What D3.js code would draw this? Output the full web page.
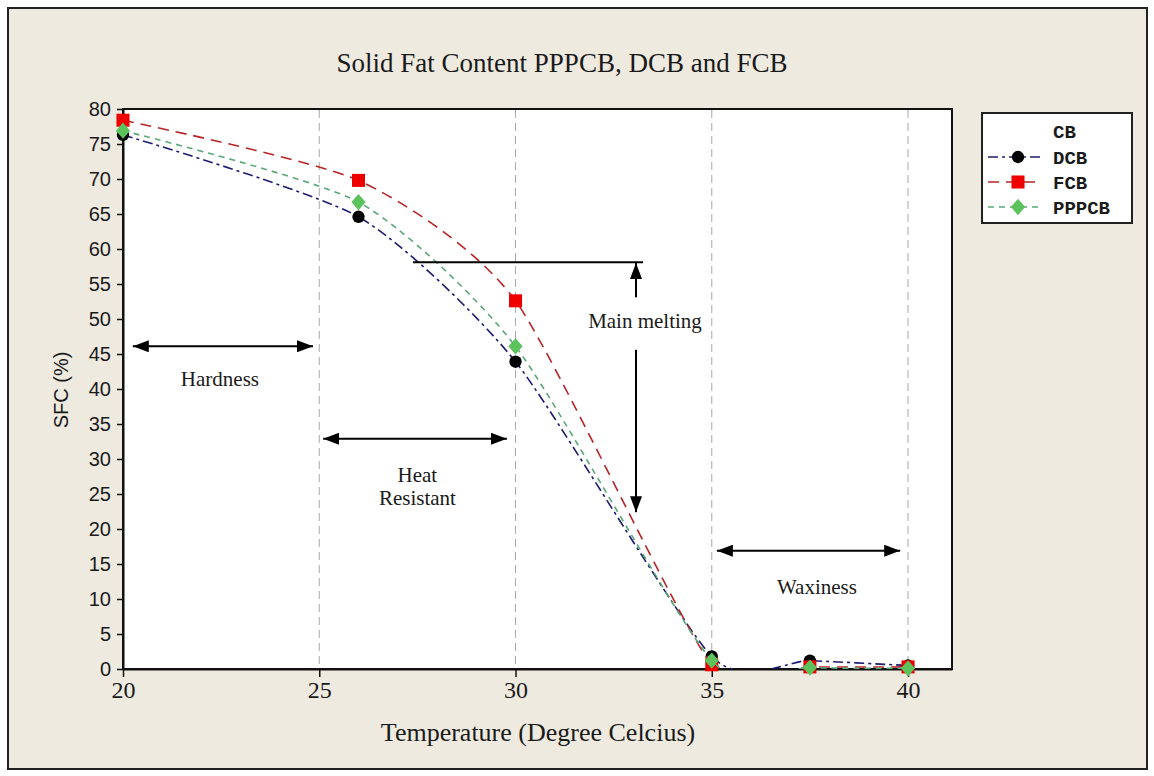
<!DOCTYPE html>
<html>
<head>
<meta charset="utf-8">
<script src="https://cdnjs.cloudflare.com/ajax/libs/d3/7.8.5/d3.min.js"></script>
<style>
	body { margin: 0; background: #fff; }
	#chart text { fill: #1a1a1a; }
</style>
</head>
<body>
<div id="chart"></div>
<script>
'use strict';

// values
var temps  = [20, 26, 30, 35, 37.5, 40];
var dcb    = [76.3, 64.6, 43.9, 1.8, 1.2, 0.5];
var fcb    = [78.4, 69.8, 52.6, 0.6, 0.3, 0.3];
var pppcb  = [76.9, 66.7, 46.1, 1.2, 0.2, 0.1];
var xTicks = [20, 25, 30, 35, 40];
var yTicks = [0, 5, 10, 15, 20, 25, 30, 35, 40, 45, 50, 55, 60, 65, 70, 75, 80];
var gridAt = [25, 30, 35, 40];
var names  = ['DCB', 'FCB', 'PPPCB'];

// annotation arrows, in data units (temperature, SFC)
var arrows = [
	{x1: 20.25, y1: 46.1, x2: 24.84, y2: 46.1, both: true},
	{x1: 25.1,  y1: 32.9, x2: 29.78, y2: 32.9, both: true},
	{x1: 35.13, y1: 16.9, x2: 39.8,  y2: 16.9, both: true},
	{x1: 33.07, y1: 53.1, x2: 33.07, y2: 58.0, both: false},
	{x1: 33.07, y1: 45.6, x2: 33.07, y2: 22.4, both: false}
];
var labels = [
	{x: 22.47, y: 40.4, text: 'Hardness', anchor: 'middle'},
	{x: 27.5,  y: 26.7, text: 'Heat', anchor: 'middle'},
	{x: 27.5,  y: 23.4, text: 'Resistant', anchor: 'middle'},
	{x: 31.85, y: 48.7, text: 'Main melting', anchor: 'start'},
	{x: 37.68, y: 10.7, text: 'Waxiness', anchor: 'middle'}
];

var svgWidth = 1154, svgHeight = 776;
var margin = {top: 109, right: 202, bottom: 107, left: 123};
var width  = svgWidth - margin.left - margin.right,
	height = svgHeight - margin.top - margin.bottom;

// squat diamond like the original marker
var diamond = {
	draw: function(ctx, size) {
		var w = Math.sqrt(size) * 0.58, h = w * 1.15;
		ctx.moveTo(0, -h); ctx.lineTo(w, 0); ctx.lineTo(0, h); ctx.lineTo(-w, 0); ctx.closePath();
	}
};

var svg = d3.select('#chart')
	.append('svg')
	.attr('width', svgWidth)
	.attr('height', svgHeight);

svg.append('rect')
	.attr('x', 8).attr('y', 8)
	.attr('width', 1139).attr('height', 761)
	.style('fill', '#eeeae0')
	.style('stroke', '#222')
	.style('stroke-width', 2);

svg.append('text')
	.attr('x', 562).attr('y', 72)
	.style('text-anchor', 'middle')
	.style('font-family', 'Liberation Serif')
	.style('font-size', '27px')
	.text('Solid Fat Content PPPCB, DCB and FCB');

var defs = svg.append('defs');
defs.append('marker')
	.attr('id', 'head')
	.attr('viewBox', '0 0 16 12')
	.attr('refX', 16).attr('refY', 6)
	.attr('markerWidth', 16).attr('markerHeight', 12)
	.attr('markerUnits', 'userSpaceOnUse')
	.attr('orient', 'auto-start-reverse')
	.append('path')
	.attr('d', 'M0,0L16,6L0,12Z')
	.style('fill', '#000');
defs.append('clipPath')
	.attr('id', 'plotclip')
	.append('rect')
	.attr('width', width).attr('height', height);

var g = svg.append('g').attr('transform', 'translate(' + [margin.left, margin.top] + ')');

var x = d3.scaleLinear().domain([20, 41.12]).range([0, width]);
var y = d3.scaleLinear().domain([0, 80]).range([height, 0]);

g.append('rect')
	.attr('width', width).attr('height', height)
	.style('fill', '#fff')
	.style('stroke', '#111')
	.style('stroke-width', 2);

g.selectAll('.grid')
	.data(gridAt)
	.enter().append('line')
	.attr('class', 'grid')
	.attr('x1', function(d) { return x(d); })
	.attr('x2', function(d) { return x(d); })
	.attr('y1', 1).attr('y2', height)
	.style('stroke', '#a8a8a8')
	.style('stroke-dasharray', '8,5');

var xAxis = g.append('g')
	.attr('transform', 'translate(0,' + height + ')')
	.call(d3.axisBottom(x).tickValues(xTicks).tickSize(8).tickSizeOuter(0).tickPadding(4));
xAxis.selectAll('text')
	.style('font-family', 'Liberation Serif')
	.style('font-size', '24px');

var yAxis = g.append('g')
	.call(d3.axisLeft(y).tickValues(yTicks).tickSize(6).tickSizeOuter(0).tickPadding(6));
yAxis.selectAll('text')
	.style('font-family', 'Liberation Sans')
	.style('font-size', '20px');

[xAxis, yAxis].forEach(function(a) {
	a.select('.domain').style('stroke', '#111').style('stroke-width', 2);
	a.selectAll('.tick line').style('stroke', '#111').style('stroke-width', 1.5);
});

g.append('text')
	.attr('x', 415).attr('y', 632)
	.style('text-anchor', 'middle')
	.style('font-family', 'Liberation Serif')
	.style('font-size', '26px')
	.text('Temperature (Degree Celcius)');

g.append('text')
	.attr('transform', 'translate(-55,' + (height / 2 + 1) + ') rotate(-90)')
	.style('text-anchor', 'middle')
	.style('font-family', 'Liberation Sans')
	.style('font-size', '20px')
	.text('SFC (%)');

// series
var series = [
	{name: names[0], values: dcb,   line: '#1c1c70', fill: '#000',    dash: '10,4,3,4', sym: d3.symbolCircle, size: 120},
	{name: names[1], values: fcb,   line: '#b82424', fill: '#ee0000', dash: '11,7',     sym: d3.symbolSquare, size: 170},
	{name: names[2], values: pppcb, line: '#5aa87a', fill: '#5cc25c', dash: '6,5',      sym: diamond,         size: 150}
];

var line = d3.line()
	.x(function(d) { return x(d[0]); })
	.y(function(d) { return y(d[1]); })
	.curve(d3.curveCardinal.tension(0.35));

series.forEach(function(s) {
	var pts = temps.map(function(t, i) { return [t, s.values[i]]; });
	g.append('path')
		.datum(pts)
		.attr('d', line)
		.attr('clip-path', 'url(#plotclip)')
		.style('fill', 'none')
		.style('stroke', s.line)
		.style('stroke-width', 1.6)
		.style('stroke-dasharray', s.dash);
	g.selectAll('.pt-' + s.name)
		.data(pts)
		.enter().append('path')
		.attr('class', 'pt-' + s.name)
		.attr('transform', function(d) { return 'translate(' + [x(d[0]), y(d[1])] + ')'; })
		.attr('d', d3.symbol().type(s.sym).size(s.size))
		.style('fill', s.fill);
});

// annotations
g.append('line')
	.attr('x1', x(27.39)).attr('x2', x(33.25))
	.attr('y1', y(58.1)).attr('y2', y(58.1))
	.style('stroke', '#000').style('stroke-width', 2);

g.selectAll('.arrow')
	.data(arrows)
	.enter().append('line')
	.attr('class', 'arrow')
	.attr('x1', function(d) { return x(d.x1); })
	.attr('y1', function(d) { return y(d.y1); })
	.attr('x2', function(d) { return x(d.x2); })
	.attr('y2', function(d) { return y(d.y2); })
	.attr('marker-end', 'url(#head)')
	.attr('marker-start', function(d) { return d.both ? 'url(#head)' : null; })
	.style('stroke', '#000').style('stroke-width', 2);

g.selectAll('.note')
	.data(labels)
	.enter().append('text')
	.attr('class', 'note')
	.attr('x', function(d) { return x(d.x); })
	.attr('y', function(d) { return y(d.y); })
	.style('text-anchor', function(d) { return d.anchor; })
	.style('font-family', 'Liberation Serif')
	.style('font-size', '21px')
	.text(function(d) { return d.text; });

// legend
var lg = svg.append('g').attr('transform', 'translate(982,113)');
lg.append('rect')
	.attr('width', 150).attr('height', 110)
	.style('fill', '#fff')
	.style('stroke', '#222')
	.style('stroke-width', 2);
lg.append('text')
	.attr('x', 71).attr('y', 25)
	.style('font-family', 'Liberation Mono')
	.style('font-size', '19px')
	.style('font-weight', 'bold')
	.text('CB');

var row = lg.selectAll('.row')
	.data(series)
	.enter().append('g')
	.attr('class', 'row')
	.attr('transform', function(d, i) { return 'translate(0,' + (44 + i * 25) + ')'; });
row.append('line')
	.attr('x1', 6).attr('x2', 58)
	.style('stroke', function(d) { return d.line; })
	.style('stroke-width', 1.6)
	.style('stroke-dasharray', function(d) { return d.dash; });
row.append('path')
	.attr('transform', 'translate(36,0)')
	.attr('d', function(d) { return d3.symbol().type(d.sym).size(d.size)(); })
	.style('fill', function(d) { return d.fill; });
row.append('text')
	.attr('x', 71).attr('dy', '0.35em')
	.style('font-family', 'Liberation Mono')
	.style('font-size', '19px')
	.style('font-weight', 'bold')
	.text(function(d) { return d.name; });
</script>
</body>
</html>
